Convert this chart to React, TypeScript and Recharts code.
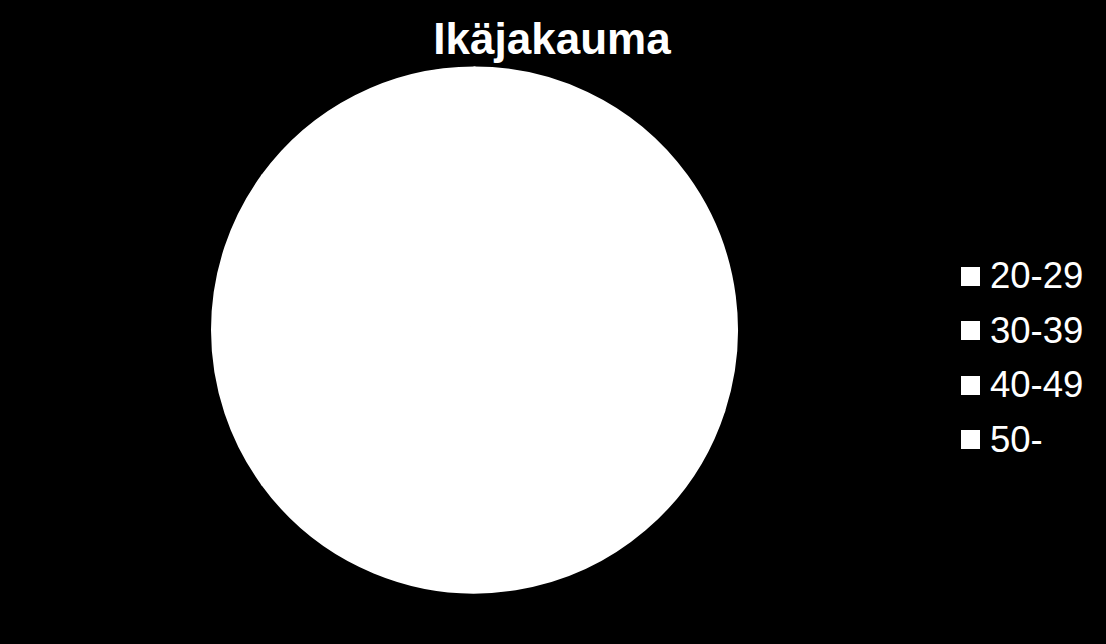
import React from "react";
import { PieChart, Pie, Cell, Legend } from "recharts";

const categories = ["20-29", "30-39", "40-49", "50-"];
const values = [30, 35, 20, 15];
const sliceColors = ["#ffffff", "#ffffff", "#ffffff", "#ffffff"];
const title = "Ikäjakauma";

const data = categories.map((name, i) => ({ name, value: values[i] }));

const FONT = "'Liberation Sans', Arial, Helvetica, sans-serif";

const LegendContent = (props: any) => {
  const { payload } = props;
  return (
    <div style={{ fontFamily: FONT }}>
      {(payload || []).map((entry: any, i: number) => (
        <div
          key={i}
          style={{
            display: "flex",
            alignItems: "center",
            height: 54.5,
          }}
        >
          <div
            style={{
              width: 19,
              height: 19,
              background: entry.color,
              marginRight: 10,
              flex: "none",
            }}
          />
          <span style={{ color: "#ffffff", fontSize: 36.5, lineHeight: "36px" }}>
            {entry.value}
          </span>
        </div>
      ))}
    </div>
  );
};

export default function App() {
  return (
    <div
      style={{
        position: "absolute",
        left: 0,
        top: 0,
        width: 1106,
        height: 644,
        background: "#000000",
        overflow: "hidden",
      }}
    >
      <div
        style={{
          position: "absolute",
          left: 0,
          width: 1106,
          top: 14,
          textAlign: "center",
          fontFamily: FONT,
          fontWeight: "bold",
          fontSize: 44,
          lineHeight: "50px",
          color: "#ffffff",
          transform: "translateX(-1px)",
        }}
      >
        {title}
      </div>
      <PieChart
        width={1106}
        height={644}
        margin={{ top: 0, right: 0, bottom: 0, left: 0 }}
        style={{ position: "absolute", left: 0, top: 0 }}
      >
        <Pie
          data={data}
          dataKey="value"
          nameKey="name"
          cx={474.5}
          cy={330}
          outerRadius={262.5}
          startAngle={90}
          endAngle={-270}
          stroke="#ffffff"
          strokeWidth={2}
          isAnimationActive={false}
        >
          {data.map((_, i) => (
            <Cell key={i} fill={sliceColors[i]} />
          ))}
        </Pie>
        <Legend
          layout="vertical"
          content={<LegendContent />}
          wrapperStyle={{ position: "absolute", left: 961, top: 249, width: 145 }}
        />
      </PieChart>
    </div>
  );
}
